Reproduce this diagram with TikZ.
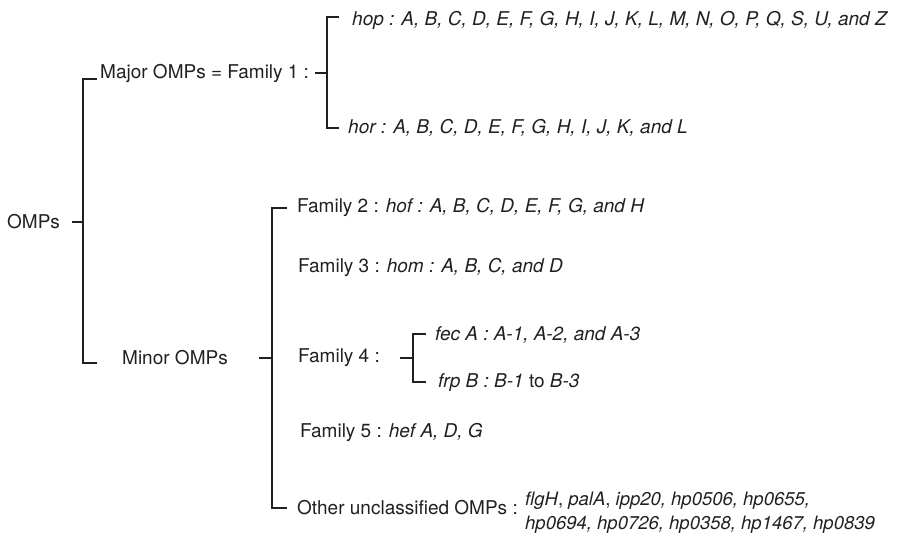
\documentclass[tikz,border=0pt]{standalone}
\usepackage{fontspec}
\setmainfont{TeX Gyre Heros}
\usepackage{xcolor}
\usepackage{tikz}
\usetikzlibrary{positioning}

\definecolor{inkgray}{HTML}{231F20}

\begin{document}
\begin{tikzpicture}[
  x=1pt, y=-1pt,
  font=\fontsize{19}{24}\selectfont,
  lbl/.style={anchor=west, inner sep=0pt, text=inkgray, align=left},
  br/.style={draw=inkgray, line width=1.4pt},
]
\useasboundingbox (0,0) rectangle (898,535);

%% ── Root ──────────────────────────────────────────────────────────────────
\node[lbl] (omps)  at (7,222)   {OMPs};

%% ── Major OMPs ────────────────────────────────────────────────────────────
\node[lbl] (major) at (100,73)  {Major OMPs = Family 1 :};
\node[lbl] (hop)   at (352,20)  {\itshape hop : A, B, C, D, E, F, G, H, I, J, K, L, M, N, O, P, Q, S, U, and Z};
\node[lbl] (hor)   at (348,128) {\itshape hor : A, B, C, D, E, F, G, H, I, J, K, and L};

%% ── Minor OMPs ────────────────────────────────────────────────────────────
\node[lbl] (minor) at (122,358) {Minor OMPs};
\node[lbl] (fam2)  at (297,207) {Family 2 : \textit{hof : A, B, C, D, E, F, G, and H}};
\node[lbl] (fam3)  at (298,267) {Family 3 : \textit{hom : A, B, C, and D}};
\node[lbl] (fam4)  at (298,358) {Family 4 :};
\node[lbl] (fec)   at (435,335) {\itshape fec A : A-1, A-2, and A-3};
\node[lbl] (frp)   at (438,383) {\textit{frp B : B-1} to \textit{B-3}};
\node[lbl] (fam5)  at (300,432) {Family 5 : \textit{hef A, D, G}};
\node[lbl] (other) at (297,508) {Other unclassified OMPs :};
\node[lbl, font=\fontsize{18.5}{24}\selectfont] (others) at (525,513)
  {\textit{flgH}, \textit{palA}, \textit{ipp20, hp0506, hp0655,}\\
   \textit{hp0694, hp0726, hp0358, hp1467, hp0839}};

%% ── Bracket corners ───────────────────────────────────────────────────────
\coordinate (r0) at (83,222);  \coordinate (t0) at (97,79);   \coordinate (u0) at (97,363);
\coordinate (r1) at (327,73);  \coordinate (t1) at (339,17);  \coordinate (u1) at (339,128);
\coordinate (r2) at (272,358); \coordinate (t2) at (287,208); \coordinate (u2) at (287,508);
\coordinate (r3) at (413,358); \coordinate (t3) at (426,334); \coordinate (u3) at (426,382);

%% ── Brackets ──────────────────────────────────────────────────────────────
\draw[br] ([xshift=12pt]omps.east)  -- (r0);
\draw[br] (t0) -| (r0) |- (u0);
\draw[br] ([xshift=6pt]major.east)  -- (r1);
\draw[br] (t1) -| (r1) |- (u1);
\draw[br] ([xshift=31pt]minor.east) -- (r2);
\draw[br] (t2) -| (r2) |- (u2);
\draw[br] ([xshift=20pt]fam4.east)  -- (r3);
\draw[br] (t3) -| (r3) |- (u3);

\end{tikzpicture}
\end{document}
